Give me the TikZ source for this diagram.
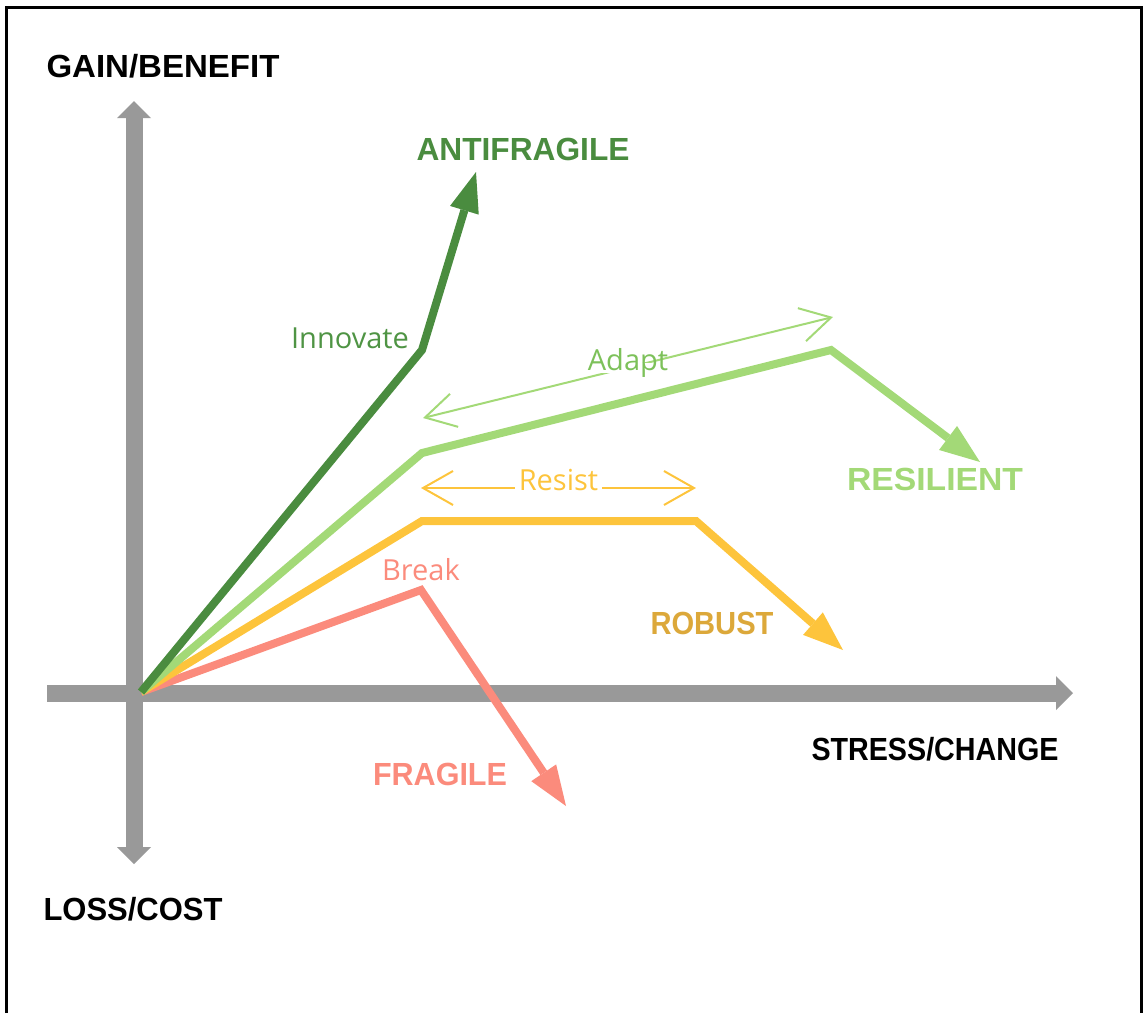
\documentclass[tikz,border=0pt]{standalone}
\usepackage{fontspec}
\setmainfont{Open Sans}
\newfontfamily\comicfont{Liberation Sans}
\usepackage{graphicx}
\usetikzlibrary{arrows.meta}
\definecolor{axisgray}{HTML}{999999}
\definecolor{dgreen}{HTML}{4A8C3F}
\definecolor{dgtext}{HTML}{4F9444}
\definecolor{lgreen}{HTML}{A3D977}
\definecolor{lgtext}{HTML}{7DC15A}
\definecolor{yel}{HTML}{FDC43C}
\definecolor{yeltext}{HTML}{DCA83A}
\definecolor{salmon}{HTML}{FB8B7C}
\newcommand{\fitw}[2]{\resizebox{#1}{\height}{#2}}
\begin{document}
\begin{tikzpicture}[x=1pt,y=-1pt,
  axisline/.style={line width=17pt, draw=axisgray},
  axisone/.style={axisline, -{Triangle[length=17pt,width=34pt,line width=0pt]}},
  axistwo/.style={axisline, {Triangle[length=17pt,width=34pt,line width=0pt]}-{Triangle[length=17pt,width=34pt,line width=0pt]}},
  curve/.style={line width=8pt, line join=miter, -{Triangle[length=40pt,width=30pt,line width=0pt]}},
  span/.style={line width=2pt, {Straight Barb[length=30pt,width=34pt]}-{Straight Barb[length=30pt,width=34pt]}},
  biglabel/.style={font=\comicfont\bfseries\fontsize{32}{36}\selectfont, inner sep=0pt, anchor=base},
  smalllabel/.style={font=\fontsize{29}{33}\selectfont, inner sep=0pt, anchor=base},
  spanlabel/.style={font=\fontsize{29}{33}\selectfont, fill=white, inner xsep=4pt, inner ysep=0pt, text height=0.76em, text depth=0.24em},
]
\useasboundingbox (0,0) rectangle (1143,1013);
% frame
\coordinate (fBL) at (6.5,1013);
\coordinate (fTL) at (6.5,7.5);
\coordinate (fTR) at (1141,7.5);
\coordinate (fBR) at (1141,1013);
\draw[line width=3pt, line join=miter] (fBL) -- (fTL) -- (fTR) -- (fBR);

% axes
\coordinate (O) at (141,692);
\coordinate (xl) at (47,693);
\coordinate (xr) at (1073,693);
\coordinate (yt) at (134,101);
\coordinate (yb) at (134,864);
\draw[axisone] (xl) -- (xr);
\draw[axistwo] (yb) -- (yt);

% curve vertices
\coordinate (af1) at (422,350);
\coordinate (af2) at (476,172);
\coordinate (rs1) at (422,453);
\coordinate (rs2) at (831,350);
\coordinate (rs3) at (980,462);
\coordinate (rb1) at (422,521);
\coordinate (rb2) at (696,521);
\coordinate (rb3) at (843,650);
\coordinate (fr1) at (421,590);
\coordinate (fr2) at (566,806);

\draw[curve, salmon] (O) -- (fr1) -- (fr2);
\draw[curve, yel] (O) -- (rb1) -- (rb2) -- (rb3);
\draw[curve, lgreen] (O) -- (rs1) -- (rs2) -- (rs3);
\draw[curve, dgreen] (O) -- (af1) -- (af2);

% spans
\coordinate (ad1) at (423,418);
\coordinate (ad2) at (833,317);
\coordinate (re1) at (421,488);
\coordinate (re2) at (696,488);
\draw[span, lgreen] (ad1) -- node[spanlabel, text=lgtext] (adapt) {Adapt} (ad2);
\draw[span, yel] (re1) -- node[spanlabel, text=yel] (resist) {Resist} (re2);

% small labels
\node[smalllabel, text=dgtext] (innovate) at (350,348) {Innovate};
\node[smalllabel, text=salmon] (break) at (421,580) {Break};

% big labels
\node[biglabel] (gain) at (163,77) {\fitw{233pt}{GAIN/BENEFIT}};
\node[biglabel] (loss) at (133,920) {\fitw{179pt}{LOSS/COST}};
\node[biglabel] (stress) at (935,760) {\fitw{247pt}{STRESS/CHANGE}};
\node[biglabel, text=dgreen] (antifragile) at (523,160) {\fitw{213pt}{ANTIFRAGILE}};
\node[biglabel, text=lgreen] (resilient) at (935,490) {\fitw{176pt}{RESILIENT}};
\node[biglabel, text=yeltext] (robust) at (712,634) {\fitw{123pt}{ROBUST}};
\node[biglabel, text=salmon] (fragile) at (440,785) {\fitw{134pt}{FRAGILE}};
\end{tikzpicture}
\end{document}
